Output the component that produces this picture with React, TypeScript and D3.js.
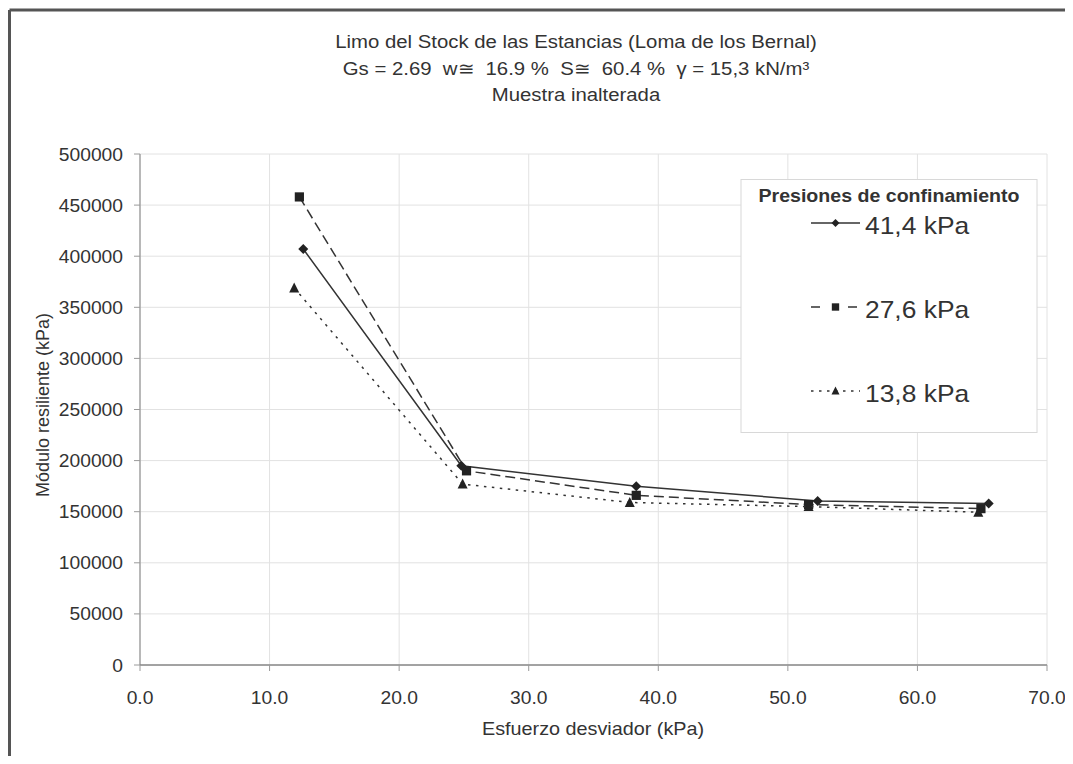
import React from 'react';
import * as d3 from 'd3';

// Esfuerzo desviador (kPa) / Modulo resiliente (kPa), por presion de confinamiento
const serie414X = [12.6, 24.8, 38.3, 52.3, 65.5];
const serie414Y = [407000, 195000, 175000, 160500, 158000];
const serie276X = [12.3, 25.2, 38.3, 51.6, 64.9];
const serie276Y = [458000, 190000, 166000, 157000, 153000];
const serie138X = [11.9, 24.9, 37.8, 51.6, 64.7];
const serie138Y = [369000, 177000, 159000, 155000, 149500];

const seriesNames = ['41,4 kPa', '27,6 kPa', '13,8 kPa'];
const xTicks = [0, 10, 20, 30, 40, 50, 60, 70];
const yTicks = [0, 50000, 100000, 150000, 200000, 250000, 300000, 350000, 400000, 450000, 500000];
const titleLines = [
  'Limo del Stock de las Estancias (Loma de los Bernal)',
  'Gs = 2.69  w\u2245  16.9 %  S\u2245  60.4 %  \u03B3 = 15,3 kN/m\u00B3',
  'Muestra inalterada',
];

const FONT = 'Liberation Sans, Arial, sans-serif';
const INK = '#333';

// text slightly wider than tall, like the scanned original
function T(props: { x: number; y: number; size: number; anchor?: string; bold?: boolean; children: React.ReactNode }) {
  const { x, y, size, anchor = 'start', bold, children } = props;
  return (
    <text transform={`translate(${x},${y}) scale(1.1,1)`} textAnchor={anchor} fontFamily={FONT}
          fontSize={size} fontWeight={bold ? 'bold' : 'normal'} fill={INK} style={{ whiteSpace: 'pre' }}>
      {children}
    </text>
  );
}

function Marker({ kind, x, y, s = 5 }: { kind: number; x: number; y: number; s?: number }) {
  if (kind === 0) {
    return <path d={`M${x},${y - s}L${x + s},${y}L${x},${y + s}L${x - s},${y}Z`} fill="#222" />;
  }
  if (kind === 1) {
    return <rect x={x - s * 0.92} y={y - s * 0.92} width={s * 1.84} height={s * 1.84} fill="#222" />;
  }
  return <path d={`M${x},${y - s * 1.1}L${x + s},${y + s * 0.9}L${x - s},${y + s * 0.9}Z`} fill="#222" />;
}

export default function App() {
  const width = 1065;
  const height = 748;

  // page coordinates (svg sits at 8,8 because of the body margin)
  const x = d3.scaleLinear().domain([0, 70]).range([140, 1047]);
  const y = d3.scaleLinear().domain([0, 500000]).range([665, 154]);

  const series = [
    { xs: serie414X, ys: serie414Y, dash: 'none' },
    { xs: serie276X, ys: serie276Y, dash: '10,5' },
    { xs: serie138X, ys: serie138Y, dash: '2.5,5.5' },
  ];

  const line = d3.line<[number, number]>()
    .x(d => x(d[0]))
    .y(d => y(d[1]));

  const legendLineY = [223, 307, 391];

  return (
    <svg width={width} height={height} style={{ display: 'block' }}>
      <g transform="translate(-8,-8)">
        <rect x={8} y={8} width={1073} height={764} fill="#fff" />
        {/* frame */}
        <line x1={9.5} y1={10} x2={1073} y2={10} stroke="#555" strokeWidth={3} />
        <line x1={9.5} y1={10} x2={9.5} y2={764} stroke="#555" strokeWidth={3} />

        {/* titles */}
        {titleLines.map((t, i) => (
          <T key={i} x={576} y={48 + i * 26.5} size={18.5} anchor="middle">{t}</T>
        ))}

        {/* grid */}
        {yTicks.map(v => (
          <line key={'gy' + v} x1={x(0)} x2={x(70)} y1={y(v)} y2={y(v)} stroke="#e2e2e2" strokeWidth={1} />
        ))}
        {xTicks.map(v => (
          <line key={'gx' + v} x1={x(v)} x2={x(v)} y1={y(0)} y2={y(500000)} stroke="#e2e2e2" strokeWidth={1} />
        ))}

        {/* axes */}
        <line x1={x(0)} x2={x(0)} y1={y(0)} y2={y(500000)} stroke="#9a9a9a" strokeWidth={1.3} />
        <line x1={x(0)} x2={x(70)} y1={y(0)} y2={y(0)} stroke="#888" strokeWidth={1.3} />
        {yTicks.map(v => (
          <g key={'ty' + v}>
            <line x1={x(0) - 6} x2={x(0)} y1={y(v)} y2={y(v)} stroke="#9a9a9a" />
            <T x={123} y={y(v) + 6.5} size={17.5} anchor="end">{String(v)}</T>
          </g>
        ))}
        {xTicks.map(v => (
          <g key={'tx' + v}>
            <line x1={x(v)} x2={x(v)} y1={y(0)} y2={y(0) + 6} stroke="#9a9a9a" />
            <T x={x(v)} y={704} size={17.5} anchor="middle">{d3.format('.1f')(v)}</T>
          </g>
        ))}

        <T x={593} y={735} size={18} anchor="middle">Esfuerzo desviador (kPa)</T>
        <text transform={`translate(49,${405}) rotate(-90)`} textAnchor="middle" fontFamily={FONT}
              fontSize={18} fill={INK}>Módulo resiliente (kPa)</text>

        {/* series */}
        {series.map((s, i) => {
          const pts: [number, number][] = s.xs.map((v, j) => [v, s.ys[j]]);
          return (
            <g key={'s' + i}>
              <path d={line(pts) || ''} fill="none" stroke="#333" strokeWidth={1.5} strokeDasharray={s.dash} />
              {pts.map((p, j) => <Marker key={j} kind={i} x={x(p[0])} y={y(p[1])} />)}
            </g>
          );
        })}

        {/* legend */}
        <rect x={741} y={179.5} width={296} height={253} fill="#fff" stroke="#d8d8d8" strokeWidth={1} />
        <T x={889} y={201.5} size={17.8} anchor="middle" bold>Presiones de confinamiento</T>
        {seriesNames.map((n, i) => (
          <g key={'l' + i}>
            <line x1={811} x2={860} y1={legendLineY[i]} y2={legendLineY[i]} stroke="#333" strokeWidth={1.5}
                  strokeDasharray={i === 1 ? '9,28' : series[i].dash} strokeDashoffset={0} />
            <Marker kind={i} x={835.5} y={legendLineY[i]} s={4} />
            <T x={865} y={legendLineY[i] + 11} size={24}>{n}</T>
          </g>
        ))}
      </g>
    </svg>
  );
}
